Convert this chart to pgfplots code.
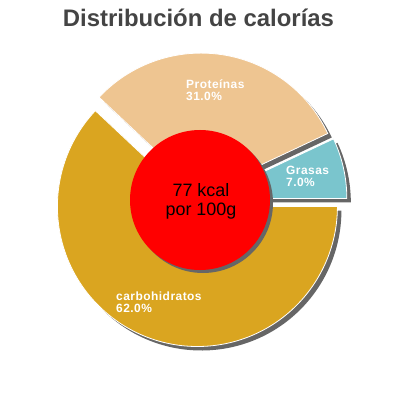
\documentclass[border=0pt]{standalone}
\usepackage{pgfplots}
\pgfplotsset{compat=1.18}
\usepackage{fontspec}
\setmainfont{Liberation Sans}
\newfontfamily\lblfont[LetterSpace=4]{Liberation Sans}

\definecolor{carbcol}{HTML}{DAA520}
\definecolor{protcol}{HTML}{EEC591}
\definecolor{grascol}{HTML}{7AC5CD}
\definecolor{shadowcol}{HTML}{666666}
\definecolor{titlecol}{HTML}{444444}

% shares in percent
\def\pGras{7.0}
\def\pProt{31.0}
\def\pCarb{62.0}

% pie centre, radius, explode distance (px)
\def\cx{200}
\def\cy{200}
\def\rad{140}
\def\expl{7}

\pgfmathsetmacro\aA{0}
\pgfmathsetmacro\aB{\aA+\pGras*3.6}
\pgfmathsetmacro\aC{\aB+\pProt*3.6}
\pgfmathsetmacro\aD{\aC+\pCarb*3.6}
\pgfmathsetmacro\gX{\cx+\expl*cos((\aA+\aB)/2)}
\pgfmathsetmacro\gY{\cy+\expl*sin((\aA+\aB)/2)}
\pgfmathsetmacro\pX{\cx+\expl*cos((\aB+\aC)/2)}
\pgfmathsetmacro\pY{\cy+\expl*sin((\aB+\aC)/2)}
\pgfmathsetmacro\kX{\cx+\expl*cos((\aC+\aD)/2)}
\pgfmathsetmacro\kY{\cy+\expl*sin((\aC+\aD)/2)}

\begin{document}
\begin{tikzpicture}
\begin{axis}[
    hide axis,
    x=1bp, y=1bp,
    xmin=0, xmax=400, ymin=0, ymax=400,
    scale only axis,
    clip=false,
]
% shadows
\fill[shadowcol] (axis cs:\gX+4,\gY-4) -- ++(\aA:\rad bp) arc[start angle=\aA, end angle=\aB, radius=\rad bp] -- cycle;
\fill[shadowcol] (axis cs:\pX+4,\pY-4) -- ++(\aB:\rad bp) arc[start angle=\aB, end angle=\aC, radius=\rad bp] -- cycle;
\fill[shadowcol] (axis cs:\kX+4,\kY-4) -- ++(\aC:\rad bp) arc[start angle=\aC, end angle=\aD, radius=\rad bp] -- cycle;
% slices
\filldraw[fill=grascol, draw=white, line width=0.8bp] (axis cs:\gX,\gY) -- ++(\aA:\rad bp) arc[start angle=\aA, end angle=\aB, radius=\rad bp] -- cycle;
\filldraw[fill=protcol, draw=white, line width=0.8bp] (axis cs:\pX,\pY) -- ++(\aB:\rad bp) arc[start angle=\aB, end angle=\aC, radius=\rad bp] -- cycle;
\filldraw[fill=carbcol, draw=white, line width=0.8bp] (axis cs:\kX,\kY) -- ++(\aC:\rad bp) arc[start angle=\aC, end angle=\aD, radius=\rad bp] -- cycle;
% centre disc
\fill[shadowcol] (axis cs:\cx+3,\cy-3) circle[radius=70bp];
\fill[red] (axis cs:\cx,\cy) circle[radius=70bp];
% labels
\begin{scope}[every node/.style={inner sep=0pt, anchor=base west, text=white,
    font=\lblfont\bfseries\fontsize{12}{12}\selectfont}]
\node at (axis cs:186,311.3) {Proteínas};
\node at (axis cs:186,299.7) {31.0\%};
\node at (axis cs:286,225.7) {Grasas};
\node at (axis cs:286,214) {7.0\%};
\node at (axis cs:116,99.3) {carbohidratos};
\node at (axis cs:116,88) {62.0\%};
\end{scope}
\node[inner sep=0pt, anchor=base, font=\fontsize{18}{20}\selectfont] at (axis cs:201,204) {77 kcal};
\node[inner sep=0pt, anchor=base, font=\fontsize{18}{20}\selectfont] at (axis cs:201,184.3) {por 100g};
% title
\node[inner sep=0pt, anchor=base, text=titlecol, font=\fontsize{24}{28}\bfseries\selectfont] at (axis cs:198.5,374) {Distribución de calorías};
\end{axis}
\pgfresetboundingbox
\path (0,0) rectangle (400bp,400bp);
\end{tikzpicture}
\end{document}
